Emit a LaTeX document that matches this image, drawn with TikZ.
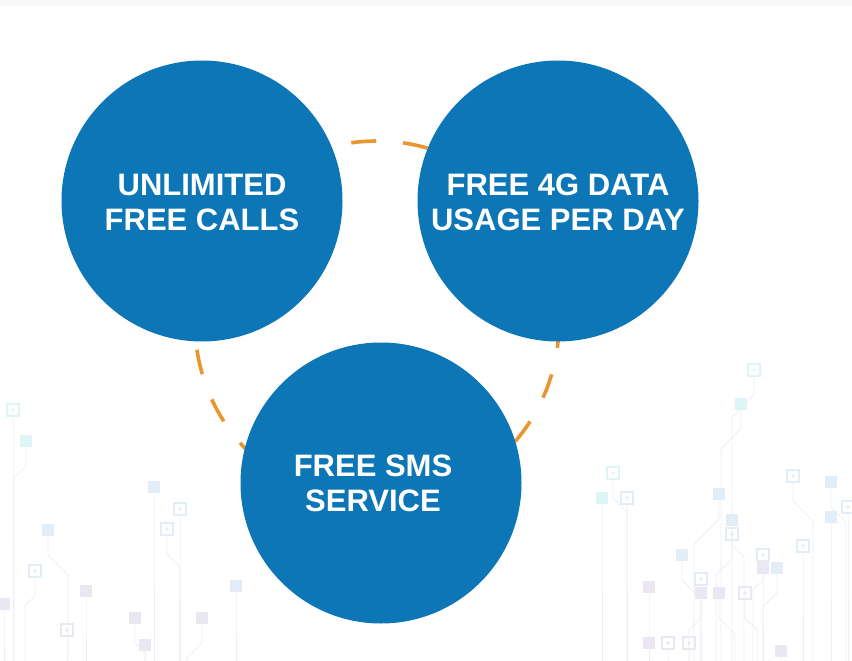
\documentclass[tikz,border=0pt]{standalone}
\usepackage{fontspec}
\setmainfont{Liberation Sans}
\usetikzlibrary{positioning}
\definecolor{circblue}{HTML}{0C76B7}
\definecolor{ringorange}{HTML}{E8962F}
\definecolor{topband}{HTML}{F7F7F7}
\definecolor{tracegray}{HTML}{EDEFF5}
\definecolor{padblue}{HTML}{E2EDF8}
\definecolor{padcyan}{HTML}{DEF5F8}
\definecolor{padlilac}{HTML}{EAE7F3}

\begin{document}
\begin{tikzpicture}[x=1pt, y=-1pt,
  feature/.style={circle, fill=circblue, minimum size=281pt, inner sep=0pt},
  featuretext/.style={text=white, align=center, font=\fontsize{31}{35}\selectfont\bfseries},
  trace/.style={draw=tracegray, line width=0.9pt},
  ring/.style={draw=ringorange, line width=3.6pt, dash pattern=on 25pt off 27pt}]

\useasboundingbox (0,0) rectangle (852,661);

% Top band
\fill[topband] (0,0) rectangle (852,6);

% Circuit board background, filled pads
\foreach \x/\y/\dx/\c in {26/441/-12/padcyan, 48/530/20/padblue, 4/604/0/padlilac, 86/591/0/padlilac,
    154/487/0/padblue, 202/618/-15/padlilac, 145/645/0/padlilac, 236/586/0/padblue,
    135/618/10/padlilac, 741/404/-20/padcyan, 602/498/0/padcyan, 831/482/15/padblue,
    831/517/0/padblue, 719/494/-25/padblue, 732/520/12/padblue, 682/555/18/padblue,
    763/568/0/padlilac, 777/568/-14/padblue, 649/587/0/padlilac, 701/593/-12/padlilac,
    719/593/16/padlilac, 649/643/0/padlilac, 781/651/0/padlilac}{
  \draw[trace] (\x,\y) -- ({\x},{\y+25}) -- ({\x+\dx},{\y+25+abs(\dx)}) -- ({\x+\dx},661);
  \fill[\c] ({\x-6},{\y-6}) rectangle ++(12,12);
}

% Circuit board background, outline pads
\foreach \x/\y/\dx/\c in {13/410/0/padcyan, 35/571/-10/padblue, 167/529/12/padblue, 180/509/0/padblue,
    67/630/0/padlilac, 754/370/-22/padcyan, 613/473/14/padcyan, 627/498/0/padblue,
    848/507/0/padblue, 732/534/-16/padblue, 793/476/20/padblue, 803/546/0/padblue,
    763/555/-10/padblue, 701/579/0/padblue, 745/593/12/padlilac, 668/643/0/padlilac,
    689/643/0/padlilac}{
  \draw[trace] ({\x},{\y+6}) -- ({\x},{\y+25}) -- ({\x+\dx},{\y+25+abs(\dx)}) -- ({\x+\dx},661);
  \draw[\c, line width=1.2pt] ({\x-6},{\y-6}) rectangle ++(12,12);
  \fill[\c] (\x,\y) circle[radius=1.8];
}

% Dashed ring behind the circles
\coordinate (ringc) at (377,323);
\draw[ring] (ringc) circle[radius=182];

% Feature circles
\node[feature] (calls) at (202,201) {};
\node[feature] (data) at (558,201) {};
\node[feature] (sms) at (381,483) {};

\node[featuretext] (callstext) at ([yshift=-1pt]calls.center) {UNLIMITED\\FREE CALLS};
\node[featuretext] (datatext) at ([yshift=-1pt]data.center) {FREE 4G DATA\\USAGE PER DAY};
\node[featuretext] (smstext) at ([xshift=-8pt]sms.center) {FREE SMS\\SERVICE};

\end{tikzpicture}
\end{document}
